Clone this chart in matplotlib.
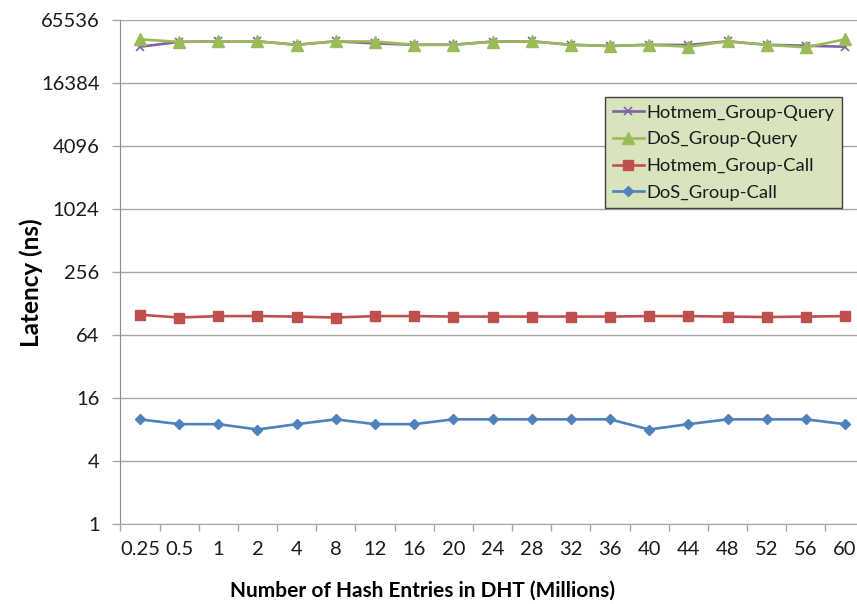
"""Latency vs. DHT size for the group call/query benchmarks."""
import matplotlib
matplotlib.use('Agg')
import matplotlib.pyplot as plt
from matplotlib.ticker import FixedLocator, NullFormatter

# --- data
sizes = ['0.25', '0.5', '1', '2', '4', '8', '12', '16', '20', '24',
         '28', '32', '36', '40', '44', '48', '52', '56', '60']

hotmem_query = [36400, 40500, 41000, 41000, 38000, 41000, 39200, 38000, 38000, 40700,
                41000, 38000, 37000, 38000, 37800, 41000, 38000, 37200, 36400]
dos_query = [42800, 40500, 41000, 41000, 38000, 41000, 40800, 38000, 38000, 40700,
             41000, 38000, 37000, 38000, 36400, 41000, 38000, 35900, 42800]
hotmem_call = [100, 94, 97, 97, 96, 94, 97, 97, 96, 96,
               96, 96, 96, 97, 97, 96, 95, 96, 97]
dos_call = [10, 9, 9, 8, 9, 10, 9, 9, 10, 10,
            10, 10, 10, 8, 9, 10, 10, 10, 9]

y_ticks = [1, 4, 16, 64, 256, 1024, 4096, 16384, 65536]

# Office palette
PURPLE = '#8064A2'
GREEN = '#9BBB59'
RED = '#C0504D'
BLUE = '#4F81BD'
GRID = '#A6A6A6'
TEXT = '#1a1a1a'

plt.rcParams['font.family'] = ['Lato', 'DejaVu Sans']

W, H, DPI = 857, 604, 100
fig = plt.figure(figsize=(W / DPI, H / DPI), dpi=DPI)
fig.patch.set_facecolor('white')

# plot area runs past the right edge of the canvas
x0, x1, y_top, y_bot = 120.4, 864.6, 20.0, 524.0
ax = fig.add_axes([x0 / W, 1 - y_bot / H, (x1 - x0) / W, (y_bot - y_top) / H])

x = list(range(len(sizes)))
ax.plot(x, hotmem_query, color=PURPLE, lw=1.9, marker='x', ms=6, mew=1.2,
        label='Hotmem_Group-Query', zorder=3)
ax.plot(x, dos_query, color=GREEN, lw=1.9, marker='^', ms=8,
        label='DoS_Group-Query', zorder=4)
ax.plot(x, hotmem_call, color=RED, lw=1.9, marker='s', ms=7,
        label='Hotmem_Group-Call', zorder=3)
ax.plot(x, dos_call, color=BLUE, lw=1.9, marker='D', ms=5.5,
        label='DoS_Group-Call', zorder=3)

ax.set_yscale('log', base=2)
ax.set_ylim(1, 65536)
ax.yaxis.set_major_locator(FixedLocator(y_ticks))
ax.set_yticklabels([str(t) for t in y_ticks])
ax.yaxis.set_minor_locator(FixedLocator([]))
ax.yaxis.set_minor_formatter(NullFormatter())
ax.grid(axis='y', color=GRID, lw=1.0, zorder=0)
ax.set_axisbelow(True)

ax.set_xlim(-0.5, len(sizes) - 0.5)
ax.set_xticks(x)
ax.set_xticklabels(sizes)
ax.set_xticks([i - 0.5 for i in range(len(sizes) + 1)], minor=True)
ax.tick_params(axis='x', which='major', length=0, pad=12, labelsize=14.5, colors=TEXT)
ax.tick_params(axis='x', which='minor', length=5, width=1, color=GRID)
ax.tick_params(axis='y', which='major', length=6, width=1, color=GRID,
               pad=9, labelsize=14.5, labelcolor=TEXT)

for side in ('top', 'right'):
    ax.spines[side].set_visible(False)
ax.spines['left'].set_color('#8C8C8C')
ax.spines['bottom'].set_color(GRID)

fig.text(31 / W, 1 - 283 / H, 'Latency (ns)', rotation=90, ha='center', va='center',
         fontsize=17.5, fontweight='bold', color='black')
fig.text(422 / W, 1 - 591 / H, 'Number of Hash Entries in DHT (Millions)',
         ha='center', va='center', fontsize=15, fontweight='bold', color='black')

leg = ax.legend(loc='upper left', bbox_to_anchor=(605 / W, 1 - 97 / H),
                bbox_transform=fig.transFigure, fontsize=13.2, frameon=True,
                fancybox=False, borderaxespad=0, handlelength=1.7,
                handletextpad=0.15, labelspacing=0.58, borderpad=0.42,
                framealpha=1)
leg.get_frame().set_facecolor('#D7E4BD')
leg.get_frame().set_edgecolor('#404040')
leg.get_frame().set_linewidth(1.0)
for t in leg.get_texts():
    t.set_color(TEXT)

fig.savefig('out.png', dpi=DPI)
plt.close(fig)
